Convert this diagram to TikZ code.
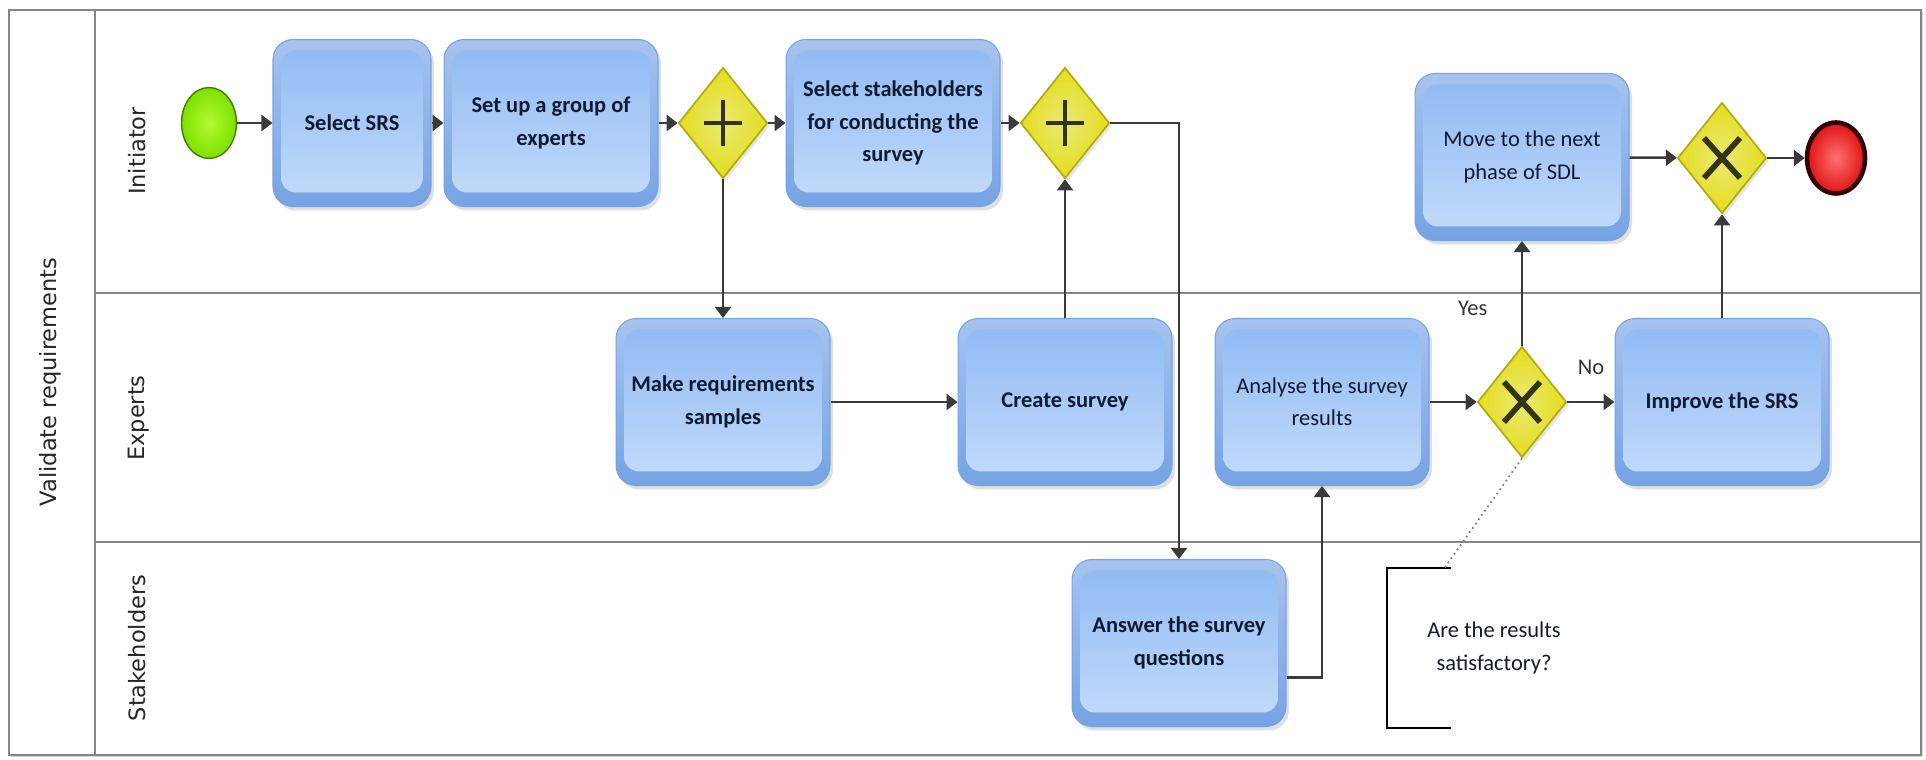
\documentclass[tikz,border=0pt]{standalone}
\usepackage{fontspec}
\setmainfont{Carlito}
\newfontfamily\lanefont{DejaVu Sans}
\usetikzlibrary{shapes.geometric, arrows.meta, shadows}

\definecolor{taskframe}{HTML}{76A3E4}
\definecolor{tasktop}{HTML}{8EB9F4}
\definecolor{taskbottom}{HTML}{C4DCFA}
\definecolor{gwfill}{HTML}{E4DE1A}
\definecolor{gwlight}{HTML}{EAE878}
\definecolor{gwdraw}{HTML}{B2AC10}
\definecolor{gwmark}{HTML}{34341A}
\definecolor{startfill}{HTML}{7EE000}
\definecolor{startlight}{HTML}{B4FA34}
\definecolor{endfill}{HTML}{E01414}
\definecolor{endlight}{HTML}{FF7070}
\definecolor{flowline}{HTML}{3A3A3A}
\definecolor{laneline}{HTML}{858585}
\definecolor{tasktext}{HTML}{121A30}

\begin{document}
\begin{tikzpicture}
                [
                    x=0.02cm, y=-0.02cm,
                    lane/.style = {draw=laneline, line width=1.2pt},
                    lanelabel/.style = {rotate=90, font=\lanefont\fontsize{12.8}{15}\selectfont, text=black!85},
                    task/.style = {shape=rectangle, rounded corners=0.4cm, minimum width=4.28cm, minimum height=3.34cm,
                                   draw=taskframe, line width=0.6pt, top color=taskframe!65!white, bottom color=taskframe,
                                   drop shadow={shadow xshift=0.06cm, shadow yshift=-0.08cm, opacity=0.25},
                                   path picture={\shade[rounded corners=0.3cm, top color=tasktop, bottom color=taskbottom]
                                       ([shift={(0.16cm,-0.22cm)}]path picture bounding box.north west) rectangle
                                       ([shift={(-0.16cm,0.28cm)}]path picture bounding box.south east);},
                                   align=center, text=tasktext, font=\bfseries\fontsize{12.8}{18.5}\selectfont},
                    lighttext/.style = {font=\fontsize{12.8}{18.5}\selectfont},
                    gateway/.style = {shape=diamond, minimum width=1.78cm, minimum height=2.22cm, inner sep=0pt,
                                      draw=gwdraw, line width=1pt, inner color=gwlight, outer color=gwfill,
                                      drop shadow={shadow xshift=0.05cm, shadow yshift=-0.06cm, opacity=0.2}},
                    andgw/.style = {gateway, path picture={\draw[gwmark, line width=2.6pt]
                                       ([xshift=-0.38cm]path picture bounding box.center) -- ([xshift=0.38cm]path picture bounding box.center)
                                       ([yshift=-0.47cm]path picture bounding box.center) -- ([yshift=0.47cm]path picture bounding box.center);}},
                    xorgw/.style = {gateway, path picture={\draw[gwmark, line width=3.2pt]
                                       ([shift={(-0.36cm,-0.4cm)}]path picture bounding box.center) -- ([shift={(0.36cm,0.4cm)}]path picture bounding box.center)
                                       ([shift={(-0.36cm,0.4cm)}]path picture bounding box.center) -- ([shift={(0.36cm,-0.4cm)}]path picture bounding box.center);}},
                    startev/.style = {shape=ellipse, minimum width=1.1cm, minimum height=1.42cm, inner sep=0pt,
                                      draw=startfill!55!black, line width=0.8pt, inner color=startlight, outer color=startfill},
                    endev/.style = {shape=ellipse, minimum width=1.16cm, minimum height=1.42cm, inner sep=0pt,
                                    draw=black!80!red, line width=2.6pt, inner color=endlight, outer color=endfill},
                    flow/.style = {draw=flowline, line width=1.4pt, -{Triangle[length=0.22cm, width=0.32cm]}},
                    branch/.style = {font=\fontsize{12.8}{15}\selectfont, text=black!80},
                    note/.style = {minimum width=4.28cm, minimum height=3.2cm, align=center, text=tasktext,
                                   font=\fontsize{12.8}{18.5}\selectfont},
                    bracket/.style = {draw=black, line width=1.3pt},
                    assoc/.style = {draw=gray, dotted, line width=1pt},
                ]

                \useasboundingbox (0,0) rectangle (1926,760);

                \draw[lane, fill=white, drop shadow={shadow xshift=0.04cm, shadow yshift=-0.04cm, opacity=0.3}] (9,10) rectangle (1921,755);
                \draw[lane] (95,10) -- (95,755);
                \draw[lane] (95,293) -- (1921,293);
                \draw[lane] (95,542) -- (1921,542);

                \node[lanelabel] (poollbl) at (50,382)      {Validate requirements};
                \node[lanelabel] (initlbl) at (137,151)     {Initiator};
                \node[lanelabel] (explbl) at (139,418)      {Experts};
                \node[lanelabel] (stakelbl) at (137,648)    {Stakeholders};

                \node[startev] (start) at (209,123)         {};
                \node[task, minimum width=3.16cm] (selsrs) at (352,123)   {Select SRS};
                \node[task] (group) at (551,123)            {Set up a group of\\experts};
                \node[andgw] (fork) at (723,123)            {};
                \node[task] (selstake) at (893,123)         {Select stakeholders\\for conducting the\\survey};
                \node[andgw] (join) at (1065,123)           {};
                \node[task, lighttext] (nextphase) at (1522,157)   {Move to the next\\phase of SDL};
                \node[xorgw] (merge) at (1722,158)          {};
                \node[endev] (end) at (1836,158)            {};

                \node[task] (samples) at (723,402)          {Make requirements\\samples};
                \node[task] (survey) at (1065,402)          {Create survey};
                \node[task, lighttext] (analyse) at (1322,402)     {Analyse the survey\\results};
                \node[xorgw] (decide) at (1522,402)         {};
                \node[task] (improve) at (1722,402)         {Improve the SRS};

                \node[task] (answer) at (1179,643)          {Answer the survey\\questions};
                \node[note] (question) at (1494,648)        {Are the results\\satisfactory?};

                \draw[flow] (start) -- (selsrs);
                \draw[flow] (selsrs) -- (group);
                \draw[flow] (group) -- (fork);
                \draw[flow] (fork) -- (selstake);
                \draw[flow] (selstake) -- (join);
                \draw[flow] (fork) -- (samples);
                \draw[flow] (samples) -- (survey);
                \draw[flow] (survey) -- (join);
                \draw[flow] (join.east) -| (answer.north);
                \draw[flow] ([yshift=-0.69cm]answer.east) -| (analyse.south);
                \draw[flow] (analyse) -- (decide);
                \draw[flow] (decide) -- node[pos=0.36, left=0.55cm, branch] (yeslbl) {Yes} (nextphase);
                \draw[flow] (decide) -- node[midway, above=0.4cm, branch] (nolbl) {No} (improve);
                \draw[flow] (improve) -- (merge);
                \draw[flow] (nextphase) -- (merge);
                \draw[flow] (merge) -- (end);

                \draw[bracket] ([xshift=1.28cm]question.north west) -- (question.north west) -- (question.south west) -- ([xshift=1.28cm]question.south west);
                \draw[assoc] (decide.south) -- ([xshift=1.16cm]question.north west);
\end{tikzpicture}
\end{document}
